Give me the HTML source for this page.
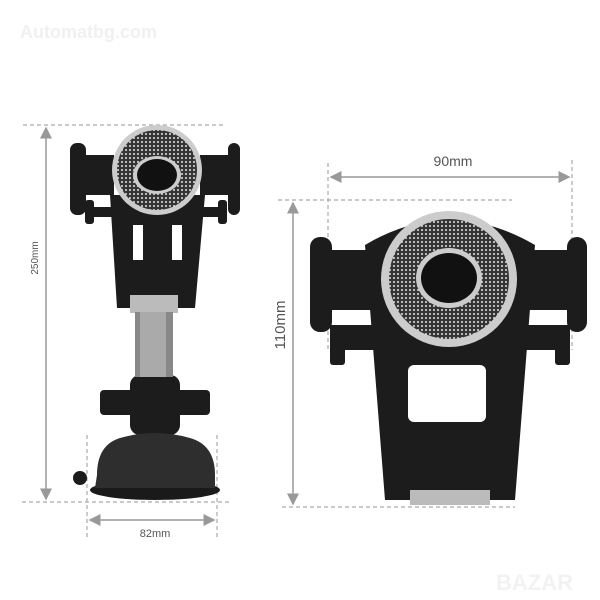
<!DOCTYPE html>
<html><head><style>body{margin:0;background:#fff}svg{display:block}</style></head><body>
<svg width="600" height="600" viewBox="0 0 600 600" xmlns="http://www.w3.org/2000/svg" font-family="Liberation Sans, sans-serif">
<defs>
<pattern id="mesh" width="4" height="4" patternUnits="userSpaceOnUse"><rect width="4" height="4" fill="#333"/><circle cx="2" cy="2" r="1.1" fill="#c8c8c8"/></pattern>
<marker id="ar" markerWidth="8" markerHeight="8" refX="7" refY="4" orient="auto-start-reverse"><path d="M0,0 L8,4 L0,8 z" fill="#999"/></marker>
</defs>
<text x="20" y="38" font-size="18" font-weight="bold" fill="#f0f0f0">Automatbg.com</text>
<g stroke="#aaa" stroke-width="1.2" stroke-dasharray="4,3" fill="none">
<line x1="23" y1="125" x2="225" y2="125"/><line x1="22" y1="502" x2="230" y2="502"/>
<line x1="87" y1="435" x2="87" y2="538"/><line x1="217" y1="435" x2="217" y2="538"/>
<line x1="328" y1="163" x2="328" y2="350"/><line x1="572" y1="160" x2="572" y2="350"/>
<line x1="278" y1="200" x2="512" y2="200"/><line x1="282" y1="507" x2="515" y2="507"/>
</g>
<g stroke="#999" stroke-width="1.5" marker-start="url(#ar)" marker-end="url(#ar)">
<line x1="46" y1="128" x2="46" y2="499"/><line x1="90" y1="520" x2="214" y2="520"/>
<line x1="331" y1="177" x2="569" y2="177"/><line x1="293" y1="203" x2="293" y2="504"/>
</g>
<text x="155" y="537" font-size="11" fill="#555" text-anchor="middle">82mm</text>
<text x="453" y="166" font-size="14" fill="#555" text-anchor="middle">90mm</text>
<text transform="translate(38,258) rotate(-90)" font-size="10" fill="#555" text-anchor="middle">250mm</text>
<text transform="translate(285,325) rotate(-90)" font-size="15" fill="#555" text-anchor="middle">110mm</text>
<!-- left device -->
<g fill="#1c1c1c">
<rect x="70" y="143" width="16" height="72" rx="7"/><rect x="228" y="143" width="12" height="72" rx="6"/>
<rect x="84" y="155" width="30" height="40"/><rect x="200" y="155" width="30" height="40"/>
<rect x="86" y="207" width="140" height="10"/>
<rect x="85" y="200" width="9" height="24" rx="3"/><rect x="218" y="200" width="9" height="24" rx="3"/>
<path d="M110 195 L205 195 L195 308 L117 308 Z"/>
<rect x="100" y="390" width="110" height="25" rx="4"/>
<rect x="130" y="375" width="50" height="60" rx="10"/>
<circle cx="80" cy="478" r="7"/>
</g>
<rect x="133" y="225" width="10" height="35" fill="#fff"/><rect x="172" y="225" width="10" height="35" fill="#fff"/>
<rect x="130" y="295" width="48" height="18" fill="#bbb"/>
<rect x="135" y="312" width="38" height="65" fill="#888"/><rect x="140" y="312" width="26" height="65" fill="#aaa"/>
<ellipse cx="155" cy="490" rx="65" ry="10" fill="#1a1a1a"/>
<path d="M97 475 Q97 445 120 438 Q155 428 190 438 Q215 445 215 475 L215 488 L95 488 Z" fill="#2e2e2e"/>
<circle cx="157" cy="170" r="45" fill="#ccc"/><circle cx="157" cy="170" r="40" fill="url(#mesh)"/>
<ellipse cx="157" cy="175" rx="24" ry="19" fill="#ccc"/><ellipse cx="157" cy="175" rx="20" ry="16" fill="#111"/>
<!-- right device -->
<g fill="#1c1c1c">
<rect x="310" y="237" width="22" height="95" rx="10"/><rect x="567" y="237" width="20" height="95" rx="10"/>
<rect x="330" y="250" width="55" height="60"/><rect x="520" y="250" width="50" height="60"/>
<rect x="330" y="325" width="240" height="25"/>
<rect x="330" y="325" width="15" height="40" rx="3"/><rect x="555" y="325" width="15" height="40" rx="3"/>
<path d="M365 245 Q449 195 535 245 L515 500 L385 500 Z"/>
</g>
<rect x="408" y="365" width="78" height="57" rx="6" fill="#fff"/>
<rect x="410" y="490" width="80" height="15" fill="#bbb"/>
<circle cx="449" cy="279" r="68" fill="#ccc"/><circle cx="449" cy="279" r="60" fill="url(#mesh)"/>
<ellipse cx="449" cy="278" rx="33" ry="30" fill="#ccc"/><ellipse cx="449" cy="278" rx="28" ry="25" fill="#111"/>
<text x="496" y="590" font-size="22" font-weight="bold" fill="#f2f2f2">BAZAR</text>
</svg>
</body></html>
